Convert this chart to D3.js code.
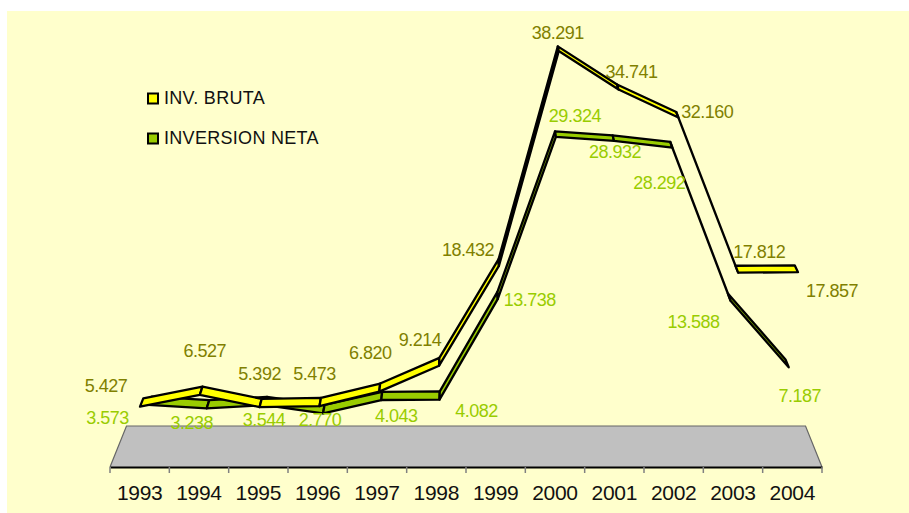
<!DOCTYPE html>
<html>
<head>
<meta charset="utf-8">
<script src="https://cdn.jsdelivr.net/npm/d3@7"></script>
<style>
  html, body { margin: 0; padding: 0; background: #fff; }
  svg { display: block; }
  text { font-family: "Liberation Sans", Arial, sans-serif; }
</style>
</head>
<body>
<div id="chart"></div>
<script>
const years = ["1993", "1994", "1995", "1996", "1997", "1998", "1999", "2000", "2001", "2002", "2003", "2004"];
const invBruta = [5427, 6527, 5392, 5473, 6820, 9214, 18432, 38291, 34741, 32160, 17812, 17857];
const invNeta = [3573, 3238, 3544, 2770, 4043, 4082, 13738, 29324, 28932, 28292, 13588, 7187];
const brutaLabels = ["5.427", "6.527", "5.392", "5.473", "6.820", "9.214", "18.432", "38.291", "34.741", "32.160", "17.812", "17.857"];
const netaLabels = ["3.573", "3.238", "3.544", "2.770", "4.043", "4.082", "13.738", "29.324", "28.932", "28.292", "13.588", "7.187"];

// where each value label sits relative to its point
const brutaNudge = [[-34, -15], [5, -38], [0, -27], [-5, -26], [-9, -33], [-19, -20], [-31, -10], [-1, -12], [13, -12], [29, 1], [21, -15], [34, 25]];
const netaNudge = [[-41, 19], [-15, 21], [-1, 21], [-3, 13], [15, 22], [37, 17], [32, 7], [19, -15], [1, 17], [-13, 41], [-37, 27], [11, 35]];

const width = 909;
const height = 513;

// floor of the 3d box
const floorLeft = 110;
const floorRight = 822;
const floorFront = 467;
const floorBack = 426;
const floorBackScale = 0.9537;

// everything further away shrinks towards this point
const vanish = [468, -418];
const ribbonBackScale = 0.99;

const svg = d3.select("#chart").append("svg").attr("width", width).attr("height", height);

svg.append("rect").attr("x", 7).attr("y", 11).attr("width", width - 7).attr("height", height - 11).attr("fill", "#ffffcc");

const xBand = d3.scaleBand(years, [floorLeft, floorRight]);

// floor
const backInset = (floorRight - floorLeft) * (1 - floorBackScale) / 2;
const floorPoints = [
  [floorLeft, floorFront],
  [floorLeft + backInset, floorBack],
  [floorRight - backInset, floorBack],
  [floorRight, floorFront],
];
svg.append("polygon").attr("points", floorPoints.join(" ")).attr("fill", "#c0c0c0");
svg.append("path")
  .attr("d", d3.line()(floorPoints))
  .attr("fill", "none").attr("stroke", "#666").attr("stroke-width", 1.2);

// axis along the front of the floor
const xAxis = svg.append("g")
  .attr("transform", `translate(0,${floorFront})`)
  .call(d3.axisBottom(xBand).tickSize(0).tickPadding(18));
xAxis.select(".domain").attr("stroke", "#000").attr("stroke-width", 2);
xAxis.selectAll("text").attr("font-size", 21).attr("fill", "#111")
  .attr("font-family", '"Liberation Sans", Arial, sans-serif').attr("letter-spacing", -0.3);
svg.append("g").attr("stroke", "#808080").attr("stroke-width", 1.5)
  .selectAll("line")
  .data(d3.range(years.length + 1))
  .join("line")
  .attr("x1", (i) => floorLeft + i * xBand.step())
  .attr("x2", (i) => floorLeft + i * xBand.step())
  .attr("y1", floorFront)
  .attr("y2", floorFront + 6);

const seriesList = [
  {
    // green ribbon is the further one so it goes first
    values: invNeta,
    labels: netaLabels,
    nudge: netaNudge,
    fill: "#99cc00",
    labelFill: "#99cc00",
    x: d3.scalePoint(years, [148.5, 788.7]),
    y: d3.scaleLinear([0, 40000], [442.1, 25.7]),
  },
  {
    values: invBruta,
    labels: brutaLabels,
    nudge: brutaNudge,
    fill: "#ffff00",
    labelFill: "#808000",
    x: d3.scalePoint(years, [140, 798]),
    y: d3.scaleLinear([0, 40000], [465.4, 32.6]),
  },
];

const toBack = ([x, y]) => [
  vanish[0] + (x - vanish[0]) * ribbonBackScale,
  vanish[1] + (y - vanish[1]) * ribbonBackScale,
];

seriesList.forEach((series) => {
  const front = series.values.map((v, i) => [series.x(years[i]), series.y(v)]);
  const back = front.map(toBack);

  svg.append("g")
    .selectAll("polygon")
    .data(d3.range(front.length - 1))
    .join("polygon")
    .attr("points", (i) => [front[i], front[i + 1], back[i + 1], back[i]].join(" "))
    .attr("fill", series.fill)
    .attr("stroke", "#000")
    .attr("stroke-width", 2.3)
    .attr("stroke-linejoin", "round");
});

// value labels on top of everything
seriesList.forEach((series) => {
  svg.append("g")
    .selectAll("text")
    .data(series.labels)
    .join("text")
    .attr("x", (d, i) => series.x(years[i]) + series.nudge[i][0])
    .attr("y", (d, i) => series.y(series.values[i]) + series.nudge[i][1])
    .attr("text-anchor", "middle")
    .attr("font-size", 18)
    .attr("letter-spacing", -0.5)
    .attr("fill", series.labelFill)
    .text((d) => d);
});

// legend
const legendItems = [
  { name: "INV. BRUTA", fill: "#ffff00", y: 98.5 },
  { name: "INVERSION NETA", fill: "#99cc00", y: 138.5 },
];
const legend = svg.append("g").selectAll("g").data(legendItems).join("g");
legend.append("rect")
  .attr("x", 148)
  .attr("y", (d) => d.y - 5)
  .attr("width", 10)
  .attr("height", 10)
  .attr("fill", (d) => d.fill)
  .attr("stroke", "#000")
  .attr("stroke-width", 2);
legend.append("text")
  .attr("x", 164)
  .attr("y", (d) => d.y + 5)
  .attr("font-size", 18)
  .attr("letter-spacing", 0.3)
  .attr("fill", "#111")
  .text((d) => d.name);
</script>
</body>
</html>
